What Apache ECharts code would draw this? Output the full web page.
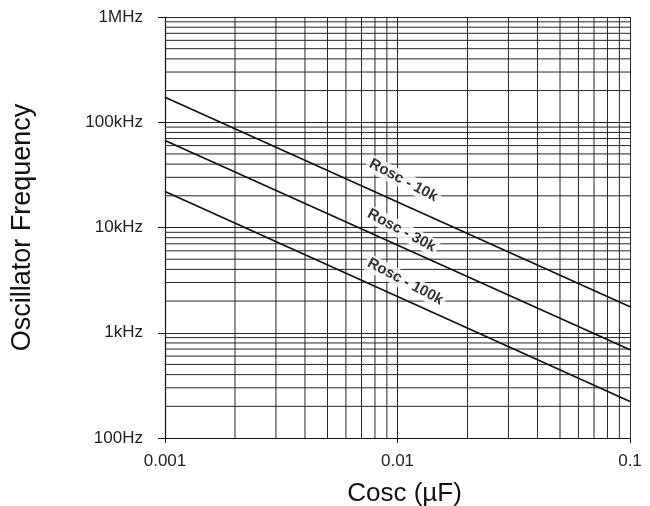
<!DOCTYPE html>
<html><head><meta charset="utf-8">
<script src="https://cdn.jsdelivr.net/npm/echarts@6/dist/echarts.min.js"></script>
<style>html,body{margin:0;padding:0;background:#fff}#c{width:650px;height:506px}</style>
</head><body><div id="c"></div>
<script>
// ---- data ----
const cosc = [0.001, 0.1];
const rosc10k = [173000, 1770];
const rosc30k = [67000, 690];
const rosc100k = [22000, 222];
const seriesNames = ['Rosc - 10k', 'Rosc - 30k', 'Rosc - 100k'];
const labelCosc = [0.0106, 0.0104, 0.0108];
const labelFreq = [28000, 9360, 3060];
const xTickLabels = ['0.001', '0.01', '0.1'];
const yTickLabels = ['100Hz', '1kHz', '10kHz', '100kHz', '1MHz'];
const xMinor = [0.002,0.003,0.004,0.005,0.006,0.007,0.008,0.009,0.02,0.03,0.04,0.05,0.06,0.07,0.08,0.09];
const yMinor = [200,300,400,500,600,700,800,900,2000,3000,4000,5000,6000,7000,8000,9000,
  20000,30000,40000,50000,60000,70000,80000,90000,200000,300000,400000,500000,600000,700000,800000,900000];

const xMin = 0.001, xMax = 0.1, yMin = 100, yMax = 1000000;
const lineColor = '#111';
const gridColor = '#262626';
const font = 'Liberation Sans, Arial, Helvetica, sans-serif';

const chart = echarts.init(document.getElementById('c'), null, {renderer: 'canvas'});
const allSeries = [rosc10k, rosc30k, rosc100k];

const gridSeries = xMinor.map(v => [[v, yMin], [v, yMax]])
  .concat(yMinor.map(v => [[xMin, v], [xMax, v]]))
  .map(d => ({
    type: 'line', data: d, z: 1, silent: true, symbol: 'none',
    lineStyle: {color: gridColor, width: 1}
  }));

const option = {
  animation: false,
  backgroundColor: '#fff',
  grid: {left: 165, right: 20, top: 17, bottom: 68, containLabel: false, outerBoundsMode: 'none'},
  xAxis: {
    type: 'log', logBase: 10, min: xMin, max: xMax,
    name: 'Cosc (\u00B5F)', nameLocation: 'middle', nameGap: 43,
    nameTextStyle: {fontFamily: font, fontSize: 26, color: '#111', padding: [0, 0, 0, 14]},
    axisLine: {show: true, lineStyle: {color: lineColor, width: 1.2}},
    axisTick: {show: true, length: 5, lineStyle: {color: lineColor}},
    axisLabel: {
      fontFamily: font, fontSize: 17, color: '#222', margin: 15,
      formatter: v => xTickLabels[Math.round(Math.log10(v)) + 3]
    },
    splitLine: {show: true, lineStyle: {color: gridColor, width: 1}}
  },
  yAxis: {
    type: 'log', logBase: 10, min: yMin, max: yMax,
    name: 'Oscillator Frequency', nameLocation: 'middle', nameGap: 129,
    nameTextStyle: {fontFamily: font, fontSize: 27, color: '#111'},
    axisLine: {show: true, lineStyle: {color: lineColor, width: 1.2}},
    axisTick: {show: true, length: 7, lineStyle: {color: lineColor}},
    axisLabel: {
      fontFamily: font, fontSize: 17, color: '#222', margin: 22,
      formatter: v => yTickLabels[Math.round(Math.log10(v)) - 2]
    },
    splitLine: {show: true, lineStyle: {color: gridColor, width: 1}}
  },
  series: [
    ...gridSeries,
    ...allSeries.map((vals, i) => ({
      type: 'line', name: seriesNames[i], z: 3,
      data: cosc.map((c, j) => [c, vals[j]]),
      symbol: 'none', lineStyle: {color: lineColor, width: 1.7}
    })),
    {
      type: 'scatter', z: 5, symbolSize: 0,
      itemStyle: {color: '#fff'},
      data: labelCosc.map((c, i) => [c, labelFreq[i], seriesNames[i]]),
      label: {
        show: true, position: 'inside', rotate: -28,
        formatter: p => p.data[2],
        fontFamily: font, fontSize: 15, fontWeight: 'bold', color: '#000',
        textBorderWidth: 0, textBorderColor: 'transparent',
        backgroundColor: '#fff', padding: [1, 3]
      }
    }
  ]
};
chart.setOption(option);
</script></body></html>
